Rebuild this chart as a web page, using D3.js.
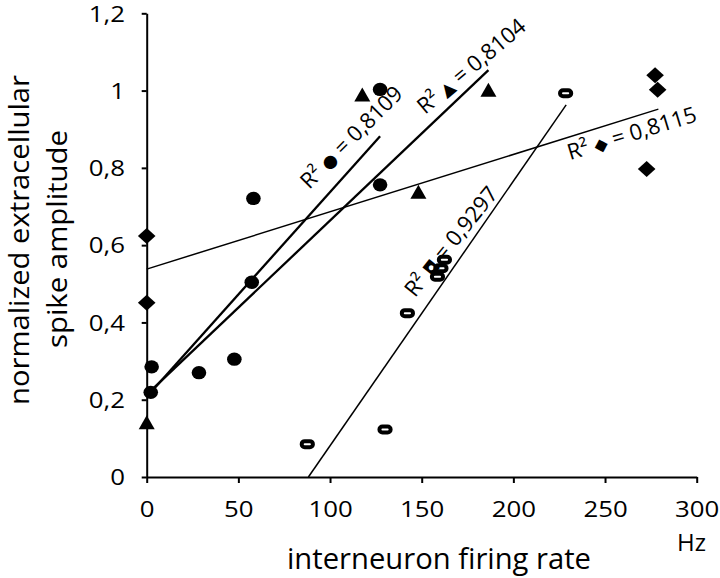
<!DOCTYPE html>
<html>
<head>
<meta charset="utf-8">
<script src="https://cdn.jsdelivr.net/npm/d3@7"></script>
<style>
  body { margin: 0; background: #fff; }
  text { font-family: "Open Sans", sans-serif; fill: #000; }
</style>
</head>
<body>
<script>
// Data (x = firing rate in Hz, y = normalized amplitude)
var circleX = [2.2, 2.7, 28.5, 47.8, 57.3, 58.2, 127.3, 127.3];
var circleY = [0.219, 0.285, 0.270, 0.305, 0.504, 0.721, 0.756, 1.003];

var triangleX = [0, 117.6, 148.2, 186.4];
var triangleY = [0.142, 0.990, 0.738, 1.002];

var diamondX = [0, 0, 272.7, 277.3, 278.7];
var diamondY = [0.451, 0.624, 0.797, 1.040, 1.002];

var openX = [87.6, 130, 142.2, 158.6, 160.5, 162.4, 228.5];
var openY = [0.085, 0.123, 0.424, 0.518, 0.540, 0.562, 0.993];

// linear trendline end points
var circleFitX = [1.8, 127.3];
var circleFitY = [0.217, 0.882];
var triangleFitX = [0, 186.4];
var triangleFitY = [0.213, 1.053];
var diamondFitX = [0, 279.1];
var diamondFitY = [0.538, 0.952];
var openFitX = [88.2, 228.8];
var openFitY = [0, 0.963];

// R squared labels
var r2Values = ["0,8109", "0,8104", "0,9297", "0,8115"];
var r2Glyphs = ["\u25cf", "\u25b2", "\u25d8", "\u25c6"];

// tick labels
var xTicks = [0, 50, 100, 150, 200, 250, 300];
var yTicks = [0, 0.2, 0.4, 0.6, 0.8, 1, 1.2];
var yTickLabels = ["0", "0,2", "0,4", "0,6", "0,8", "1", "1,2"];

// SVG area
var svgWidth = 720;
var svgHeight = 578;

var svg = d3.select("body")
  .append("svg")
  .attr("width", svgWidth)
  .attr("height", svgHeight);

svg.append("rect")
  .attr("width", svgWidth)
  .attr("height", svgHeight)
  .attr("fill", "#fff");

// scales (pixel range of the plot area)
var xScale = d3.scaleLinear()
  .domain([0, 300])
  .range([146.7, 696.7]);

var yScale = d3.scaleLinear()
  .domain([0, 1.2])
  .range([477, 13.3]);

// axes
var bottomAxis = d3.axisBottom(xScale)
  .tickValues(xTicks)
  .tickSize(6)
  .tickSizeOuter(0);

var leftAxis = d3.axisLeft(yScale)
  .tickValues(yTicks)
  .tickFormat(function(d, i) { return yTickLabels[i]; })
  .tickSize(5)
  .tickSizeOuter(0);

var xAxisG = svg.append("g")
  .attr("transform", "translate(0," + yScale(0) + ")")
  .call(bottomAxis);

var yAxisG = svg.append("g")
  .attr("transform", "translate(" + xScale(0) + ",0)")
  .call(leftAxis);

[xAxisG, yAxisG].forEach(function(g) {
  g.select(".domain").attr("stroke", "#000").attr("stroke-width", 2);
  g.selectAll(".tick line").attr("stroke", "#000").attr("stroke-width", 2);
  g.selectAll(".tick text")
    .attr("font-family", "Open Sans")
    .attr("font-size", 21.5)
    .attr("fill", "#000");
});

xAxisG.selectAll(".tick text")
  .attr("y", 39.7)
  .attr("dy", null);

yAxisG.selectAll(".tick text")
  .attr("x", -21.7)
  .attr("dy", "0.36em");

// stretch tick labels a little, the original is wider
svg.selectAll(".tick text").each(function() {
  var w = this.getComputedTextLength();
  d3.select(this)
    .attr("textLength", w * 1.2)
    .attr("lengthAdjust", "spacingAndGlyphs");
});

// trendlines
var fits = [
  { x: circleFitX, y: circleFitY, w: 2.3 },
  { x: triangleFitX, y: triangleFitY, w: 2.3 },
  { x: diamondFitX, y: diamondFitY, w: 1.5 },
  { x: openFitX, y: openFitY, w: 1.5 }
];

fits.forEach(function(f) {
  svg.append("line")
    .attr("x1", xScale(f.x[0]))
    .attr("y1", yScale(f.y[0]))
    .attr("x2", xScale(f.x[1]))
    .attr("y2", yScale(f.y[1]))
    .attr("stroke", "#000")
    .attr("stroke-width", f.w);
});

// markers
function zip(xs, ys) {
  return xs.map(function(x, i) { return { x: x, y: ys[i] }; });
}

svg.selectAll(".circ")
  .data(zip(circleX, circleY))
  .enter().append("ellipse")
  .attr("class", "circ")
  .attr("cx", d => xScale(d.x))
  .attr("cy", d => yScale(d.y))
  .attr("rx", 7.3)
  .attr("ry", 6.7)
  .attr("fill", "#000");

svg.selectAll(".tri")
  .data(zip(triangleX, triangleY))
  .enter().append("path")
  .attr("class", "tri")
  .attr("transform", d => "translate(" + xScale(d.x) + "," + yScale(d.y) + ")")
  .attr("d", "M0,-7L8,7L-8,7Z")
  .attr("fill", "#000");

svg.selectAll(".dia")
  .data(zip(diamondX, diamondY))
  .enter().append("path")
  .attr("class", "dia")
  .attr("transform", d => "translate(" + xScale(d.x) + "," + yScale(d.y) + ")")
  .attr("d", "M0,-8L8.8,0L0,8L-8.8,0Z")
  .attr("fill", "#000");

svg.selectAll(".open")
  .data(zip(openX, openY))
  .enter().append("rect")
  .attr("class", "open")
  .attr("x", d => xScale(d.x) - 5.6)
  .attr("y", d => yScale(d.y) - 3)
  .attr("width", 11.2)
  .attr("height", 6)
  .attr("rx", 3)
  .attr("fill", "#fff")
  .attr("stroke", "#000")
  .attr("stroke-width", 4);

// R² labels, rotated along their lines
var labelPos = [
  { x: 88.7, y: 0.743, angle: 45 },
  { x: 151.8, y: 0.937, angle: 40 },
  { x: 146.3, y: 0.4625, angle: 51 },
  { x: 230.9, y: 0.820, angle: 17 }
];
var labelLength = 134;

labelPos.forEach(function(p, i) {
  var t = svg.append("text")
    .attr("transform", "translate(" + xScale(p.x) + "," + yScale(p.y) + ") rotate(" + (-p.angle) + ")")
    .attr("font-size", 20);
  t.append("tspan").text("R\u00b2 ");
  var g = t.append("tspan")
    .attr("font-family", "DejaVu Sans")
    .attr("font-size", 16)
    .text(r2Glyphs[i]);
  t.append("tspan").text(" = " + r2Values[i]);
  // grow the font until the label is as long as in the original
  var k = labelLength / t.node().getComputedTextLength();
  t.attr("font-size", 20 * k);
  g.attr("font-size", 16 * k);
});

// axis titles
svg.append("text")
  .attr("x", 439)
  .attr("y", 569)
  .attr("text-anchor", "middle")
  .attr("font-size", 28.5)
  .attr("textLength", 304)
  .attr("lengthAdjust", "spacingAndGlyphs")
  .text("interneuron firing rate");

svg.append("text")
  .attr("x", 691.5)
  .attr("y", 551)
  .attr("text-anchor", "middle")
  .attr("font-size", 24)
  .text("Hz");

svg.append("text")
  .attr("transform", "translate(28.5,240) rotate(-90)")
  .attr("text-anchor", "middle")
  .attr("font-size", 27.5)
  .attr("textLength", 330)
  .attr("lengthAdjust", "spacingAndGlyphs")
  .text("normalized extracellular");

svg.append("text")
  .attr("transform", "translate(67,239) rotate(-90)")
  .attr("text-anchor", "middle")
  .attr("font-size", 27.5)
  .attr("textLength", 218)
  .attr("lengthAdjust", "spacingAndGlyphs")
  .text("spike amplitude");
</script>
</body>
</html>
